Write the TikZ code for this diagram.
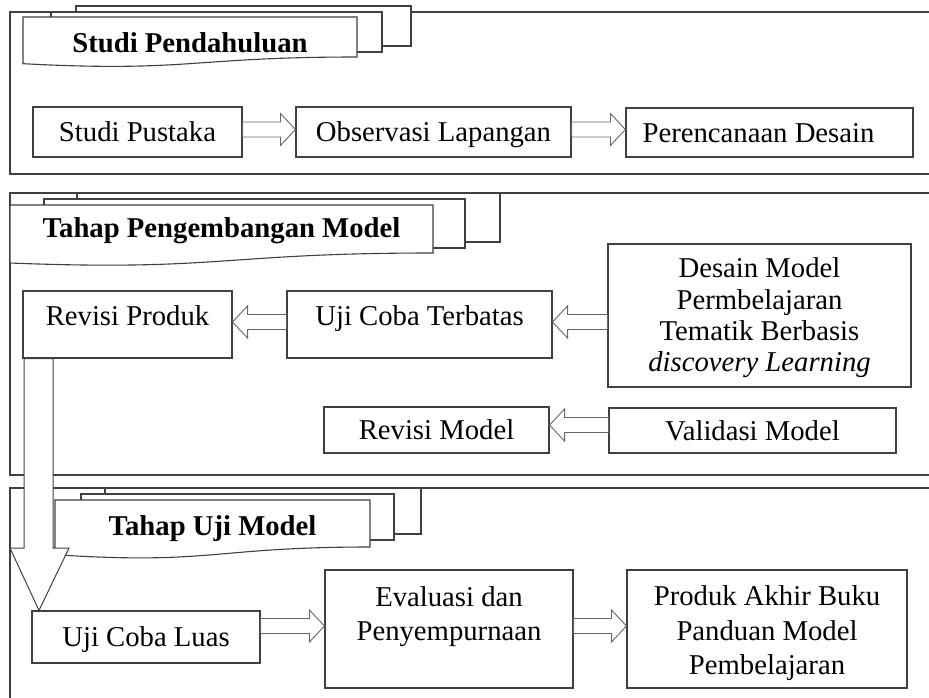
\documentclass[tikz,border=0pt]{standalone}
\usepackage{fontspec}
\setmainfont{Liberation Serif}
\usetikzlibrary{calc}
\tikzset{
  box/.style={draw=black!75, line width=1.1pt, fill=white, inner sep=0pt, align=center,
    font=\fontsize{28.7}{31.3}\selectfont, text=black},
  one/.style={text height=19pt, text depth=0pt},
  blk/.style={draw=black!60, line width=0.9pt, fill=white, line join=miter},
  bigblk/.style={draw=black!75, line width=1pt, fill=white, line join=miter},
  frame/.style={draw=black!75, line width=1.1pt},
  hdr/.style={draw=black!75, line width=1.1pt, fill=white},
  htxt/.style={font=\fontsize{28.7}{31}\selectfont\bfseries, anchor=base, inner sep=0pt, text=black},
}
\newcommand\arrR[3]{\draw[blk] let \p1=(#1.east), \p2=(#2.west), \p3=(0,#3) in
  (\x1,\y3+7.5pt) -- (\x2-15pt,\y3+7.5pt) -- (\x2-15pt,\y3+16pt) -- (\x2,\y3)
  -- (\x2-15pt,\y3-16pt) -- (\x2-15pt,\y3-7.5pt) -- (\x1,\y3-7.5pt) -- cycle;}
\newcommand\arrL[3]{\draw[blk] let \p1=(#1.west), \p2=(#2.east), \p3=(0,#3) in
  (\x1,\y3+7.5pt) -- (\x2+15pt,\y3+7.5pt) -- (\x2+15pt,\y3+16pt) -- (\x2,\y3)
  -- (\x2+15pt,\y3-16pt) -- (\x2+15pt,\y3-7.5pt) -- (\x1,\y3-7.5pt) -- cycle;}
\begin{document}
\begin{tikzpicture}[x=1pt,y=-1pt]
\useasboundingbox (0,0) rectangle (929,697);
\fill[white] (0,0) rectangle (929,697);

% section frames
\draw[frame] (931,12) -- (10,12) -- (10,174) -- (931,174);
\draw[frame] (931,193) -- (10,193) -- (10,475) -- (931,475);
\draw[frame] (931,488) -- (10,488) -- (10,699);

% header 1
\path[hdr] (76,6) rectangle (411,46);
\path[hdr] (51,12) rectangle (382,52);
\path[hdr] (23,17) -- (357,17) -- (357,57) .. controls (190,57) and (190,72.4) .. (23,63.7) -- cycle;
\node[htxt] (h1) at (190,52) {Studi Pendahuluan};

% header 2
\path[hdr] (77,193) rectangle (500,242);
\path[hdr] (44,199) rectangle (465,248);
\path[hdr] (10,205) -- (433,205) -- (433,253) .. controls (221.5,253) and (221.5,271.3) .. (10,263) -- cycle;
\node[htxt] (h2) at (221.5,237) {Tahap Pengembangan Model};

% header 3
\path[hdr] (105,488) rectangle (421,534);
\path[hdr] (81,494) rectangle (394,540);
\path[hdr] (55,500) -- (370,500) -- (370,547) .. controls (212.5,547) and (212.5,565) .. (55,554.7) -- cycle;
\node[htxt] (h3) at (212.5,535) {Tahap Uji Model};

% boxes section 1
\node[box, one, minimum width=209pt, minimum height=50pt] (sp) at (137.5,132) {Studi Pustaka};
\node[box, one, minimum width=275pt, minimum height=50pt] (ol) at (433.5,132) {Observasi Lapangan};
\node[box, one, minimum width=287pt, minimum height=49pt] (pd) at (769.5,132.5) {Perencanaan Desain\hspace*{22pt}};

% boxes section 2
\node[box, one, text depth=18pt, minimum width=209pt, minimum height=67pt] (rp) at (127.5,324.5) {Revisi Produk};
\node[box, one, text depth=18pt, minimum width=265pt, minimum height=67pt] (uct) at (419.5,324.5) {Uji Coba Terbatas};
\node[box, minimum width=303pt, minimum height=143pt] (dm) at (759.5,315.5)
  {\rule{0pt}{25pt}Desain Model\\Permbelajaran\\Tematik Berbasis\\\textit{discovery Learning}};
\node[box, one, minimum width=225pt, minimum height=46pt] (rm) at (436.5,430) {Revisi Model};
\node[box, one, minimum width=287pt, minimum height=45pt] (vm) at (752.5,430.5) {Validasi Model};

% section 3
\node[box, one, minimum width=228pt, minimum height=52pt] (ucl) at (146,637) {Uji Coba Luas};
\node[box, font=\fontsize{28.7}{34.5}\selectfont, minimum width=248pt, minimum height=118pt] (ep) at (449,629)
  {\rule{0pt}{29pt}Evaluasi dan\\Penyempurnaan\\\rule[-6pt]{0pt}{6pt}};
\node[box, font=\fontsize{28.7}{34.5}\selectfont, minimum width=280pt, minimum height=118pt] (pa) at (767,629)
  {\rule{0pt}{29pt}Produk Akhir Buku\\Panduan Model\\Pembelajaran};

% big down arrow
\draw[bigblk] let \p1=(rp.south), \p2=(ucl.north) in
  (24pt,\y1) -- (24pt,-548pt) -- (10pt,-548pt) -- (39pt,\y2) -- (69pt,-548pt) -- (53pt,-548pt) -- (53pt,\y1) -- cycle;

% redraw borders over arrow ends
\draw[draw=black!75, line width=1.1pt] (rp.south west) -- (rp.south east);
\draw[draw=black!75, line width=1.1pt] (ucl.north west) -- (ucl.north east);

% block arrows
\arrR{sp}{ol}{129.5}
\arrR{ol}{pd}{129.5}
\arrL{uct}{rp}{322}
\arrL{dm}{uct}{322}
\arrL{vm}{rm}{425}
\arrR{ucl}{ep}{626}
\arrR{ep}{pa}{626}
\end{tikzpicture}
\end{document}
